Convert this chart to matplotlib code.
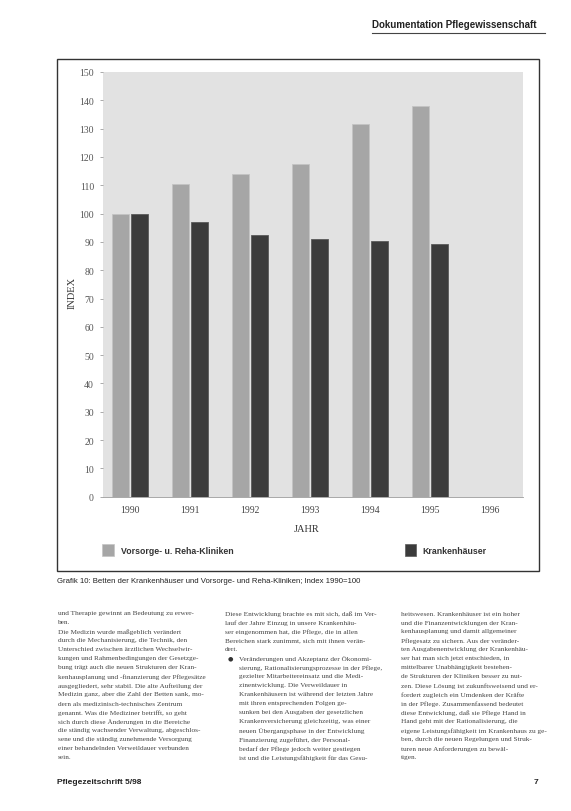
import matplotlib
matplotlib.use("Agg")
import matplotlib.pyplot as plt
from matplotlib.patches import Rectangle
from matplotlib.lines import Line2D
import numpy as np

# ---- data ----
years = ["1990", "1991", "1992", "1993", "1994", "1995", "1996"]
vorsorge = [100, 110.5, 114, 117.5, 131.5, 138]
kranken = [100, 97, 92.5, 91, 90.3, 89.3]
yticks = list(range(0, 151, 10))
series_names = ["Vorsorge- u. Reha-Kliniken", "Krankenhäuser"]

header = "Dokumentation Pflegewissenschaft"
caption = "Grafik 10: Betten der Krankenhäuser und Vorsorge- und Reha-Kliniken; Index 1990=100"
footer_left = "Pflegezeitschrift 5/98"
footer_right = "7"

col1 = [
    "und Therapie gewinnt an Bedeutung zu erwer-",
    "ben.",
    "Die Medizin wurde maßgeblich verändert",
    "durch die Mechanisierung, die Technik, den",
    "Unterschied zwischen ärztlichen Wechselwir-",
    "kungen und Rahmenbedingungen der Gesetzge-",
    "bung trägt auch die neuen Strukturen der Kran-",
    "kenhausplanung und -finanzierung der Pflegesätze",
    "ausgegliedert, sehr stabil. Die alte Aufteilung der",
    "Medizin ganz, aber die Zahl der Betten sank, mo-",
    "dern als medizinisch-technisches Zentrum",
    "genannt. Was die Mediziner betrifft, so geht",
    "sich durch diese Änderungen in die Bereiche",
    "die ständig wachsender Verwaltung, abgeschlos-",
    "sene und die ständig zunehmende Versorgung",
    "einer behandelnden Verweildauer verbunden",
    "sein.",
]
col2 = [
    "Diese Entwicklung brachte es mit sich, daß im Ver-",
    "lauf der Jahre Einzug in unsere Krankenhäu-",
    "ser eingenommen hat, die Pflege, die in allen",
    "Bereichen stark zunimmt, sich mit ihnen verän-",
    "dert.",
    "Veränderungen und Akzeptanz der Ökonomi-",
    "sierung, Rationalisierungsprozesse in der Pflege,",
    "gezielter Mitarbeitereinsatz und die Medi-",
    "zinentwicklung. Die Verweildauer in",
    "Krankenhäusern ist während der letzten Jahre",
    "mit ihren entsprechenden Folgen ge-",
    "sunken bei den Ausgaben der gesetzlichen",
    "Krankenversicherung gleichzeitig, was einer",
    "neuen Übergangsphase in der Entwicklung",
    "Finanzierung zugeführt, der Personal-",
    "bedarf der Pflege jedoch weiter gestiegen",
    "ist und die Leistungsfähigkeit für das Gesu-",
]
col3 = [
    "heitswesen. Krankenhäuser ist ein hoher",
    "und die Finanzentwicklungen der Kran-",
    "kenhausplanung und damit allgemeiner",
    "Pflegesatz zu sichern. Aus der veränder-",
    "ten Ausgabenentwicklung der Krankenhäu-",
    "ser hat man sich jetzt entschieden, in",
    "mittelbarer Unabhängigkeit bestehen-",
    "de Strukturen der Kliniken besser zu nut-",
    "zen. Diese Lösung ist zukunftsweisend und er-",
    "fordert zugleich ein Umdenken der Kräfte",
    "in der Pflege. Zusammenfassend bedeutet",
    "diese Entwicklung, daß sie Pflege Hand in",
    "Hand geht mit der Rationalisierung, die",
    "eigene Leistungsfähigkeit im Krankenhaus zu ge-",
    "ben, durch die neuen Regelungen und Struk-",
    "turen neue Anforderungen zu bewäl-",
    "tigen.",
]

W, H = 571, 812
fig = plt.figure(figsize=(W / 100, H / 100), dpi=100)
fig.patch.set_facecolor("white")


def fx(x):
    return x / W


def fy(y):
    return 1 - y / H


serif = ["Liberation Serif", "DejaVu Serif"]
sans = ["Liberation Sans", "DejaVu Sans"]

# ---- chart frame ----
fig.patches.append(Rectangle((fx(57), fy(572)), fx(539) - fx(57), fy(60) - fy(572),
                             transform=fig.transFigure, fill=False,
                             edgecolor="#333333", linewidth=1.0))

# ---- axes ----
ax_l, ax_r, ax_t, ax_b = 103, 523, 73, 497.7
ax = fig.add_axes([fx(ax_l), fy(ax_b), fx(ax_r) - fx(ax_l), fy(ax_t) - fy(ax_b)])
ax.set_facecolor("#e2e2e2")

x = np.arange(len(years))
bw = 0.29
n = len(vorsorge)
ax.bar(x[:n] - 0.155, vorsorge, width=bw, color="#a6a6a6", edgecolor="#c4c4c4",
       linewidth=0.6, zorder=3)
ax.bar(x[:n] + 0.155, kranken, width=bw, color="#3b3b3b", edgecolor="#5a5a5a",
       linewidth=0.6, zorder=3)

ax.set_xlim(-0.45, 6.55)
ax.set_ylim(0, 150)
ax.set_yticks(yticks)
ax.set_yticklabels([str(v) for v in yticks], fontfamily=serif, fontsize=7, color="#555555")
ax.set_xticks(x)
ax.set_xticklabels(years, fontfamily=serif, fontsize=7, color="#444444")
ax.tick_params(axis="y", length=2.5, width=0.5, color="#888888", pad=4)
ax.tick_params(axis="x", length=0, pad=6)
for s in ["top", "right", "left"]:
    ax.spines[s].set_visible(False)
ax.spines["bottom"].set_color("#9a9a9a")
ax.spines["bottom"].set_linewidth(0.6)

fig.text(fx(72), fy(293), "INDEX", rotation=90, ha="center", va="center",
         fontfamily=serif, fontsize=7.5, color="#333333")
fig.text(fx(307), fy(529), "JAHR", ha="center", va="center",
         fontfamily=serif, fontsize=7.5, color="#333333")

# ---- legend ----
fig.patches.append(Rectangle((fx(102), fy(557)), fx(114) - fx(102), fy(545) - fy(557),
                             transform=fig.transFigure, facecolor="#a6a6a6",
                             edgecolor="#c4c4c4", linewidth=0.5))
fig.text(fx(121), fy(551), series_names[0], ha="left", va="center",
         fontfamily=sans, fontsize=6.3, fontweight="bold", color="#333333")
fig.patches.append(Rectangle((fx(405), fy(557)), fx(416) - fx(405), fy(545) - fy(557),
                             transform=fig.transFigure, facecolor="#3b3b3b",
                             edgecolor="#5a5a5a", linewidth=0.5))
fig.text(fx(422), fy(551), series_names[1], ha="left", va="center",
         fontfamily=sans, fontsize=6.3, fontweight="bold", color="#333333")

# ---- header ----
fig.text(fx(537), fy(25), header, ha="right", va="center",
         fontfamily=sans, fontsize=7.0, fontweight="bold", color="#222222")
fig.lines.append(Line2D([fx(372), fx(545)], [fy(34), fy(34)], transform=fig.transFigure,
                        color="#444444", linewidth=0.8))

# ---- caption ----
fig.text(fx(57), fy(582), caption, ha="left", va="center",
         fontfamily=sans, fontsize=5.6, color="#222222")

# ---- body text ----
line_h = 9
y0 = 614
for i, t in enumerate(col1):
    fig.text(fx(58), fy(y0 + i * line_h), t, ha="left", va="center",
             fontfamily=serif, fontsize=5.2, color="#444444")
for i, t in enumerate(col2):
    xx = 225 if (i < 5) else 239
    fig.text(fx(xx), fy(y0 + i * line_h), t, ha="left", va="center",
             fontfamily=serif, fontsize=5.2, color="#444444")
fig.text(fx(228), fy(y0 + 5 * line_h), "●", ha="left", va="center",
         fontfamily=["DejaVu Sans"], fontsize=4.5, color="#333333")
for i, t in enumerate(col3):
    fig.text(fx(401), fy(y0 + i * line_h), t, ha="left", va="center",
             fontfamily=serif, fontsize=5.2, color="#444444")

# ---- footer ----
fig.text(fx(57), fy(783), footer_left, ha="left", va="center",
         fontfamily=sans, fontsize=6.0, fontweight="bold", color="#222222")
fig.text(fx(538), fy(783), footer_right, ha="right", va="center",
         fontfamily=sans, fontsize=6.0, fontweight="bold", color="#222222")

fig.savefig("out.png", dpi=100, facecolor="white")
